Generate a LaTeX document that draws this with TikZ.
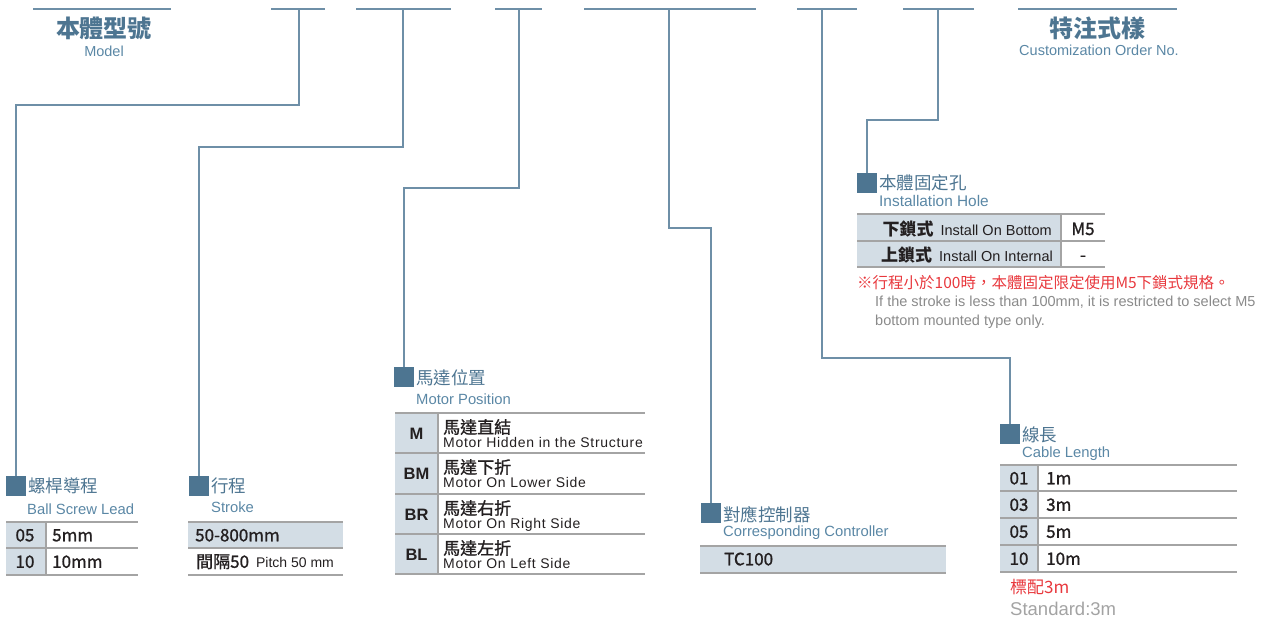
\documentclass[tikz,border=0pt]{standalone}
\usepackage{fontspec}
\setmainfont{Liberation Sans}
\newfontfamily\cjk{Noto Sans CJK TC}
\newfontfamily\cjkm[FakeBold=1.2]{Noto Sans CJK TC}
\newfontfamily\lsp[LetterSpace=5]{Liberation Sans}
\newcommand\myfs[1]{\fontsize{#1}{#1}\selectfont}
\definecolor{sqC}{HTML}{4D7591}
\definecolor{subC}{HTML}{5A87A5}
\definecolor{lineC}{HTML}{6E8FA7}
\definecolor{tblF}{HTML}{D3DDE5}
\definecolor{tblL}{HTML}{A4A4A4}
\definecolor{txtC}{HTML}{231F20}
\definecolor{redC}{HTML}{E8383D}
\definecolor{grayC}{HTML}{8A8A8A}
\definecolor{stdC}{HTML}{A3A3A3}
\tikzset{
  conn/.style={draw=lineC, line width=1.6pt},
  topline/.style={draw=lineC, line width=1.6pt},
  sq/.style={fill=sqC, minimum size=20pt, inner sep=0pt, anchor=north west},
  ttl/.style={anchor=base west, inner sep=0pt, text=sqC, font=\cjk\myfs{17.5}},
  subtxt/.style={anchor=base west, inner sep=0pt, text=subC, font=\myfs{14.8}},
  celltxt/.style={anchor=base west, inner sep=0pt, text=txtC, font=\cjkm\myfs{17}},
  keycell/.style={anchor=base, inner sep=0pt, text=txtC, font=\cjkm\myfs{17}},
  motorkey/.style={anchor=base, inner sep=0pt, text=txtC, font=\bfseries\myfs{16.5}},
  motorzh/.style={anchor=base west, inner sep=0pt, text=txtC, font=\cjkm\myfs{17}},
  motoren/.style={anchor=base west, inner sep=0pt, text=txtC, font=\lsp\myfs{14}},
  tline/.style={draw=tblL, line width=1.8pt},
}
\begin{document}
\begin{tikzpicture}[x=1pt,y=-1pt]
\useasboundingbox (0,0) rectangle (1278,618);

% ---- top lines ----
\draw[topline] (33,9) -- (171,9);
\draw[topline] (271,9) -- (325,9);  \coordinate (t2) at (299,9);
\draw[topline] (356,9) -- (451,9);  \coordinate (t3) at (403,9);
\draw[topline] (495,9) -- (542,9);  \coordinate (t4) at (519,9);
\draw[topline] (584,9) -- (756,9);  \coordinate (t5) at (669,9);
\draw[topline] (797,9) -- (857,9);  \coordinate (t6) at (822,9);
\draw[topline] (903,9) -- (974,9);  \coordinate (t7) at (938,9);
\draw[topline] (1018,9) -- (1177,9);

% ---- top titles ----
\node[anchor=base, inner sep=0pt, text=sqC, font=\cjk\bfseries\myfs{24}] (mtitle) at (104,38) {本體型號};
\node[anchor=base, inner sep=0pt, text=subC, font=\myfs{14.5}] (msub) at (104,57) {Model};
\node[anchor=base, inner sep=0pt, text=sqC, font=\cjk\bfseries\myfs{24}] (ctitle) at (1097,38) {特注式樣};
\node[anchor=base, inner sep=0pt, text=subC, font=\myfs{14.5}] (csub) at (1099,56) {Customization Order No.};

% ---- squares ----
\node[sq] (sq1) at (6,476) {};
\node[sq] (sq2) at (189,476) {};
\node[sq] (sq3) at (394,367) {};
\node[sq] (sq4) at (701,503) {};
\node[sq] (sq5) at (1000,424) {};
\node[sq] (sq6) at (857,173) {};

% ---- connectors ----
\draw[conn] (t2) -- ++(0,96) -| (sq1.north);
\draw[conn] (t3) -- ++(0,138) -| (sq2.north);
\draw[conn] (t4) -- ++(0,179) -| (sq3.north);
\draw[conn] (t5) -- ++(0,219) -| (sq4.north);
\draw[conn] (t6) -- ++(0,349) -| (sq5.north);
\draw[conn] (t7) -- ++(0,111) -| (sq6.north);

% ---- section titles ----
\node[ttl] (h1) at (28,492.6) {螺桿導程};
\node[subtxt] (s1) at (27,514) {Ball Screw Lead};
\node[ttl] (h2) at (211,492.6) {行程};
\node[subtxt] (s2) at (211,512) {Stroke};
\node[ttl] (h3) at (416,384.6) {馬達位置};
\node[subtxt] (s3) at (416,404) {Motor Position};
\node[ttl] (h4) at (723,521.6) {對應控制器};
\node[subtxt] (s4) at (723,536) {Corresponding Controller};
\node[ttl] (h5) at (1022,441.6) {線長};
\node[subtxt] (s5) at (1022,457) {Cable Length};
\node[ttl] (h6) at (879,189.6) {本體固定孔};
\node[subtxt, font=\myfs{15.4}] (s6) at (879,206) {Installation Hole};

% ---- ball screw lead table ----
\fill[tblF] (6,522) rectangle (46,575);
\foreach \yy in {522,548,575} \draw[tline] (6,\yy) -- (138,\yy);
\draw[tline] (46,522) -- (46,575);
\node[keycell] (b1k) at (25,541.3) {05};
\node[celltxt] (b1v) at (52,541.3) {5mm};
\node[keycell] (b2k) at (25,567.8) {10};
\node[celltxt] (b2v) at (52,567.8) {10mm};

% ---- stroke table ----
\fill[tblF] (188,522) rectangle (343,548);
\foreach \yy in {522,548,575} \draw[tline] (188,\yy) -- (343,\yy);
\node[celltxt] (st1) at (195,541.3) {50-800mm};
\node[celltxt] (st2) at (196,567.8) {間隔50\hspace{7pt}{\normalfont\myfs{14}Pitch 50 mm}};

% ---- motor position table ----
\fill[tblF] (395,413) rectangle (438,574);
\foreach \yy in {413,453,494,534,574} \draw[tline] (395,\yy) -- (645,\yy);
\draw[tline] (438,413) -- (438,574);
\node[motorkey] (m1k) at (416.5,439) {M};
\node[motorkey] (m2k) at (416.5,479.5) {BM};
\node[motorkey] (m3k) at (416.5,520) {BR};
\node[motorkey] (m4k) at (416.5,560) {BL};
\node[motorzh] (m1z) at (443,433.5) {馬達直結};
\node[motoren] (m1e) at (443,447.3) {Motor Hidden in the Structure};
\node[motorzh] (m2z) at (443,473.5) {馬達下折};
\node[motoren] (m2e) at (443,487.3) {Motor On Lower Side};
\node[motorzh] (m3z) at (443,514.5) {馬達右折};
\node[motoren] (m3e) at (443,528.3) {Motor On Right Side};
\node[motorzh] (m4z) at (443,554.5) {馬達左折};
\node[motoren] (m4e) at (443,568.3) {Motor On Left Side};

% ---- controller table ----
\fill[tblF] (700,546) rectangle (946,573);
\foreach \yy in {546,573} \draw[tline] (700,\yy) -- (946,\yy);
\node[celltxt] (tc) at (724,565.3) {TC100};

% ---- cable length table ----
\fill[tblF] (1000,465) rectangle (1038,572);
\foreach \yy in {465,491,518,545,572} \draw[tline] (1000,\yy) -- (1237,\yy);
\draw[tline] (1038,465) -- (1038,572);
\node[keycell] (c1k) at (1019,484.3) {01};
\node[celltxt] (c1v) at (1046,484.3) {1m};
\node[keycell] (c2k) at (1019,510.8) {03};
\node[celltxt] (c2v) at (1046,510.8) {3m};
\node[keycell] (c3k) at (1019,537.8) {05};
\node[celltxt] (c3v) at (1046,537.8) {5m};
\node[keycell] (c4k) at (1019,564.8) {10};
\node[celltxt] (c4v) at (1046,564.8) {10m};
\node[anchor=base west, inner sep=0pt, text=redC, font=\cjk\myfs{17}] (std1) at (1010,593.5) {標配3m};
\node[anchor=base west, inner sep=0pt, text=stdC, font=\myfs{18.5}] (std2) at (1010,615.5) {Standard:3m};

% ---- installation hole table ----
\fill[tblF] (857,214) rectangle (1061,267);
\foreach \yy in {214,241,267} \draw[tline] (857,\yy) -- (1105,\yy);
\draw[tline] (1061,214) -- (1061,267);
\node[anchor=base east, inner sep=0pt, text=txtC] (i1) at (1052,235)
  {{\cjk\bfseries\myfs{17}下鎖式}\hspace{7pt}{\myfs{14.5}Install On Bottom}};
\node[anchor=base east, inner sep=0pt, text=txtC] (i2) at (1053,261)
  {{\cjk\bfseries\myfs{17}上鎖式}\hspace{7pt}{\myfs{14.5}Install On Internal}};
\node[keycell] (i1v) at (1083,235) {M5};
\node[keycell] (i2v) at (1083,261) {-};
\node[anchor=base west, inner sep=0pt, text=redC, font=\cjk\myfs{15.5}] (note1) at (857,288.4)
  {※行程小於100時，本體固定限定使用M5下鎖式規格。};
\node[anchor=base west, inner sep=0pt, text=grayC, font=\myfs{14.5}] (note2) at (875,306)
  {If the stroke is less than 100mm, it is restricted to select M5};
\node[anchor=base west, inner sep=0pt, text=grayC, font=\myfs{14.5}] (note3) at (875,325)
  {bottom mounted type only.};
\end{tikzpicture}
\end{document}
